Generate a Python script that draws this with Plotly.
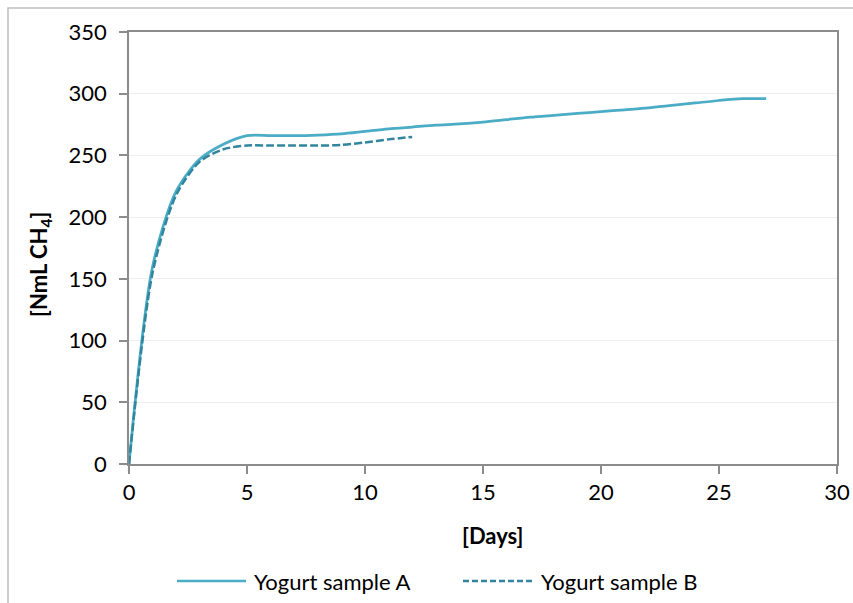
import plotly.graph_objects as go

days_a = [0, 1, 2, 3, 4, 5, 6, 7, 8, 9, 10, 11, 12, 13, 14, 15, 16, 17, 18, 19, 20, 21, 22, 23, 24, 25, 26, 27]
yogurt_a = [0, 160, 221, 247, 259, 266, 266, 266, 266.5, 267.5, 269.5, 271.5, 273, 274.5, 275.5, 277,
            279, 281, 282.5, 284, 285.5, 287, 288.5, 290.5, 292.5, 294.5, 296, 296]
days_b = [0, 1, 2, 3, 4, 5, 6, 7, 8, 9, 10, 11, 12]
yogurt_b = [0, 155, 218, 245, 255, 258, 258, 258, 258, 258.5, 260.5, 263, 265]

x_ticks = [0, 5, 10, 15, 20, 25, 30]
y_ticks = [0, 50, 100, 150, 200, 250, 300, 350]
series_names = ["Yogurt sample A", "Yogurt sample B"]
series_colors = ["#4bacc6", "#31859c"]
series_dash = ["solid", "8px,3px"]
legend_dash = ["solid", "6px,3px"]

FONT = "Lato"
FS = 22
AXIS_COL = "#8c8c8c"

fig = go.Figure()
fig.add_trace(go.Scatter(x=days_a, y=yogurt_a, mode="lines", name=series_names[0], showlegend=False,
                         line=dict(color=series_colors[0], width=2.75, shape="spline", smoothing=0.8)))
fig.add_trace(go.Scatter(x=days_b, y=yogurt_b, mode="lines", name=series_names[1], showlegend=False,
                         line=dict(color=series_colors[1], width=2.5, dash=series_dash[1], shape="spline", smoothing=0.8)))

L, R, T, B = 129, 16, 32, 139
W, H = 853, 603
pw, ph = W - L - R, H - T - B

def px2paper_x(px):
    return (px - L) / pw

def px2paper_y(py):
    return (H - B - py) / ph

# manual legend (styling only)
legend_items = [(177, 246, 252), (463, 532, 539)]
shapes = [
    dict(type="rect", xref="paper", yref="paper",
         x0=px2paper_x(8), x1=px2paper_x(870), y0=px2paper_y(620), y1=px2paper_y(8),
         line=dict(color="#bfbfbf", width=1.5), fillcolor="rgba(0,0,0,0)", layer="below"),
]
annotations = [
    dict(text="<b>[Days]</b>", x=px2paper_x(493), y=px2paper_y(535), xref="paper", yref="paper",
         showarrow=False, xanchor="center", yanchor="middle", font=dict(family=FONT, size=FS)),
    dict(text="<b>[NmL CH<sub>4</sub>]</b>", x=px2paper_x(40), y=px2paper_y(265), xref="paper", yref="paper",
         showarrow=False, xanchor="center", yanchor="middle", textangle=-90, font=dict(family=FONT, size=FS)),
]
for (x0, x1, xt), name, col, dsh in zip(legend_items, series_names, series_colors, legend_dash):
    shapes.append(dict(type="line", xref="paper", yref="paper",
                       x0=px2paper_x(x0), x1=px2paper_x(x1), y0=px2paper_y(581), y1=px2paper_y(581),
                       line=dict(color=col, width=2.5, dash=dsh)))
    annotations.append(dict(text=name, x=px2paper_x(xt), y=px2paper_y(581), xref="paper", yref="paper",
                            showarrow=False, xanchor="left", yanchor="middle",
                            font=dict(family=FONT, size=FS, color="#000000")))

fig.update_layout(
    width=W, height=H,
    margin=dict(l=L, r=R, t=T, b=B, autoexpand=False),
    paper_bgcolor="white", plot_bgcolor="white",
    font=dict(family=FONT, size=FS, color="#000000"),
    showlegend=False,
    xaxis=dict(range=[0, 30], tickvals=x_ticks, ticktext=[str(v) for v in x_ticks],
               showgrid=False, zeroline=False, showline=True, linecolor=AXIS_COL, linewidth=1.5,
               mirror=True, ticks="outside", ticklen=8, tickcolor=AXIS_COL, tickwidth=1.5,
               tickfont=dict(family=FONT, size=FS, color="#000000")),
    yaxis=dict(range=[0, 350], tickvals=y_ticks, ticktext=[str(v) for v in y_ticks],
               showgrid=True, gridcolor="#eeeeee", gridwidth=1, zeroline=False,
               showline=True, linecolor=AXIS_COL, linewidth=1.5, mirror=True,
               ticks="outside", ticklen=8, tickcolor=AXIS_COL, tickwidth=1.5, ticklabelstandoff=8,
               tickfont=dict(family=FONT, size=FS, color="#000000")),
    annotations=annotations,
    shapes=shapes,
)

fig.write_html("out.html")
